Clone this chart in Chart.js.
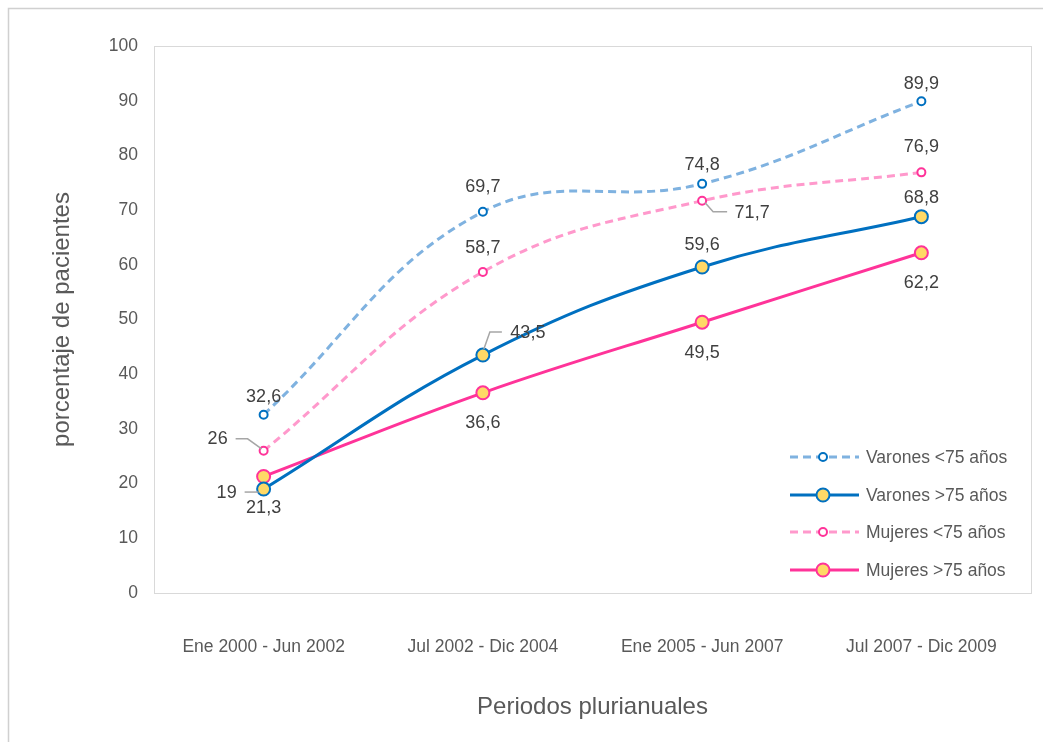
<!DOCTYPE html>
<html>
<head>
<meta charset="utf-8">
<script src="https://cdn.jsdelivr.net/npm/chart.js@4.4.1/dist/chart.umd.min.js"></script>
<style>
  html, body { margin: 0; padding: 0; background: #fff; }
  #wrap { width: 1043px; height: 742px; }
</style>
</head>
<body>
<div id="wrap"><canvas id="c" width="1043" height="742"></canvas></div>
<script>
// Periods and series (percentage of patients)
const periods = ['Ene 2000 - Jun 2002', 'Jul 2002 - Dic 2004', 'Ene 2005 - Jun 2007', 'Jul 2007 - Dic 2009'];
const varonesMenor75 = [32.6, 69.7, 74.8, 89.9];
const varonesMayor75 = [19, 43.5, 59.6, 68.8];
const mujeresMenor75 = [26, 58.7, 71.7, 76.9];
const mujeresMayor75 = [21.3, 36.6, 49.5, 62.2];
const seriesNames = ['Varones <75 años', 'Varones >75 años', 'Mujeres <75 años', 'Mujeres >75 años'];
const yTicks = [0, 10, 20, 30, 40, 50, 60, 70, 80, 90, 100];

const FONT = "'Liberation Sans', Arial, sans-serif";

// Value label placement per point: offset of the text centre from the point,
// plus an optional leader line (points relative to the marker)
const labelPlacement = [
  [{dx: 0, dy: -18}, {dx: 0, dy: -25}, {dx: 0, dy: -19}, {dx: 0, dy: -17}],
  [{dx: -37, dy: 4, leader: [[-19, 3], [-5, 3]]},
   {dx: 45, dy: -22, leader: [[1, -6], [7, -23], [19, -23]]},
   {dx: 0, dy: -22}, {dx: 0, dy: -19}],
  [{dx: -46, dy: -12, leader: [[-28, -12], [-16, -12], [-2, -2]]},
   {dx: 0, dy: -24},
   {dx: 50, dy: 12, leader: [[3, 2], [11, 11], [25, 11]]},
   {dx: 0, dy: -25}],
  [{dx: 0, dy: 32}, {dx: 0, dy: 30}, {dx: 0, dy: 31}, {dx: 0, dy: 30}]
];

const fmt = v => String(v).replace('.', ',');

// Background, outer frame and plot-area frame
const framePlugin = {
  id: 'frame',
  beforeDraw(chart) {
    const {ctx, chartArea: a, width, height} = chart;
    ctx.save();
    ctx.fillStyle = '#fff';
    ctx.fillRect(0, 0, width, height);
    ctx.strokeStyle = '#d0d0d0';
    ctx.lineWidth = 1.5;
    ctx.beginPath();
    ctx.moveTo(8.5, height);
    ctx.lineTo(8.5, 8.5);
    ctx.lineTo(width, 8.5);
    ctx.stroke();
    ctx.strokeStyle = '#d9d9d9';
    ctx.lineWidth = 1;
    ctx.strokeRect(Math.round(a.left) + 0.5, Math.round(a.top) + 0.5,
                   Math.round(a.right - a.left), Math.round(a.bottom - a.top));
    ctx.restore();
  }
};

// Value labels with leader lines
const valueLabels = {
  id: 'valueLabels',
  afterDatasetsDraw(chart) {
    const {ctx} = chart;
    ctx.save();
    ctx.font = '18px ' + FONT;
    ctx.textAlign = 'center';
    ctx.textBaseline = 'middle';
    chart.data.datasets.forEach((ds, i) => {
      const meta = chart.getDatasetMeta(i);
      meta.data.forEach((pt, j) => {
        const p = labelPlacement[i][j];
        if (p.leader) {
          ctx.strokeStyle = '#a6a6a6';
          ctx.lineWidth = 1.5;
          ctx.beginPath();
          p.leader.forEach(([lx, ly], k) => {
            if (k === 0) ctx.moveTo(pt.x + lx, pt.y + ly);
            else ctx.lineTo(pt.x + lx, pt.y + ly);
          });
          ctx.stroke();
        }
        ctx.fillStyle = '#404040';
        ctx.fillText(fmt(ds.data[j]), pt.x + p.dx, pt.y + p.dy);
      });
    });
    ctx.restore();
  }
};

// Legend inside the plot area, lower right
const insideLegend = {
  id: 'insideLegend',
  afterDraw(chart) {
    const {ctx} = chart;
    const x0 = 790, x1 = 859, xm = 823, xt = 866;
    const rows = [457, 495, 532, 570];
    ctx.save();
    ctx.font = '17.5px ' + FONT;
    ctx.textAlign = 'left';
    ctx.textBaseline = 'middle';
    chart.data.datasets.forEach((ds, i) => {
      const y = rows[i];
      ctx.strokeStyle = ds.borderColor;
      ctx.lineWidth = ds.borderWidth;
      ctx.setLineDash(ds.borderDash || []);
      ctx.beginPath();
      ctx.moveTo(x0, y);
      ctx.lineTo(x1, y);
      ctx.stroke();
      ctx.setLineDash([]);
      ctx.beginPath();
      ctx.arc(xm, y, ds.pointRadius, 0, Math.PI * 2);
      ctx.fillStyle = ds.pointBackgroundColor;
      ctx.fill();
      ctx.lineWidth = ds.pointBorderWidth;
      ctx.strokeStyle = ds.pointBorderColor;
      ctx.stroke();
      ctx.fillStyle = '#595959';
      ctx.fillText(ds.label, xt, y + 1);
    });
    ctx.restore();
  }
};

const dashedStyle = (line, marker) => ({
  borderColor: line, borderWidth: 3, borderDash: [8, 5],
  pointRadius: 4, pointBorderWidth: 2,
  pointBackgroundColor: '#ffffff', pointBorderColor: marker
});
const solidStyle = (line) => ({
  borderColor: line, borderWidth: 3,
  pointRadius: 6.5, pointBorderWidth: 2,
  pointBackgroundColor: '#ffd966', pointBorderColor: line
});

new Chart(document.getElementById('c'), {
  type: 'line',
  data: {
    labels: periods,
    datasets: [
      {label: seriesNames[0], data: varonesMenor75, ...dashedStyle('#7fb2e0', '#0070c0')},
      {label: seriesNames[1], data: varonesMayor75, ...solidStyle('#0070c0')},
      {label: seriesNames[2], data: mujeresMenor75, ...dashedStyle('#ff99cc', '#ff3399')},
      {label: seriesNames[3], data: mujeresMayor75, ...solidStyle('#ff3399')}
    ].map(d => Object.assign(d, {tension: 0.4, fill: false, clip: false, pointHoverRadius: d.pointRadius}))
  },
  options: {
    responsive: false,
    animation: false,
    events: [],
    layout: {padding: {left: 0, top: 46, right: 12, bottom: 0}},
    plugins: {legend: {display: false}, tooltip: {enabled: false}},
    scales: {
      x: {
        offset: true,
        grid: {display: false, drawTicks: false, tickLength: 0},
        border: {display: false},
        ticks: {color: '#595959', font: {family: FONT, size: 17.5}, padding: 44, maxRotation: 0, autoSkip: false},
        title: {display: true, text: 'Periodos plurianuales', color: '#595959',
                font: {family: FONT, size: 24}, padding: {top: 0, bottom: 20}},
        afterFit(scale) { scale.height = 149; }
      },
      y: {
        min: 0, max: 100,
        afterBuildTicks(scale) { scale.ticks = yTicks.map(v => ({value: v})); },
        grid: {display: false, drawTicks: false, tickLength: 0},
        border: {display: false},
        ticks: {color: '#595959', font: {family: FONT, size: 17.5}, padding: 16},
        title: {display: true, text: 'porcentaje de pacientes', color: '#595959',
                font: {family: FONT, size: 24}, padding: {top: 48, bottom: 0}},
        afterFit(scale) { scale.width = 154; }
      }
    }
  },
  plugins: [framePlugin, valueLabels, insideLegend]
});
</script>
</body>
</html>
